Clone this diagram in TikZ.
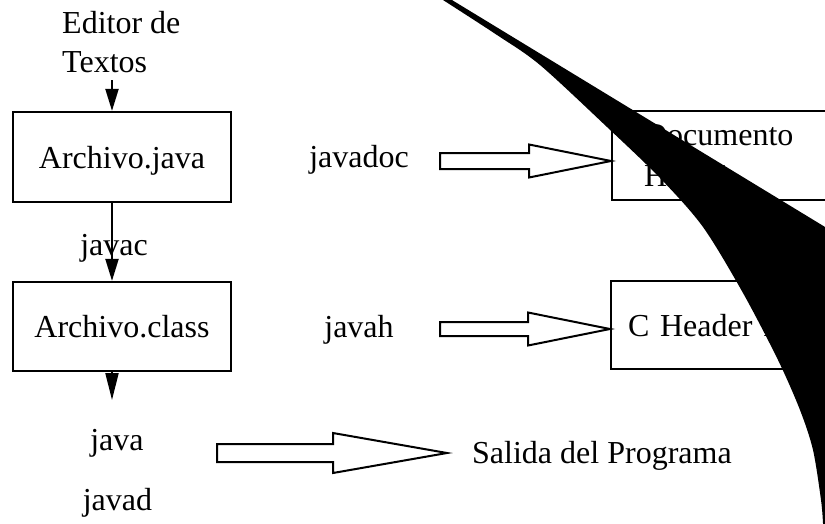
\documentclass[tikz,border=0pt]{standalone}
\usepackage{fontspec}
\setmainfont{Liberation Serif}
\usetikzlibrary{arrows.meta,calc}
\newcommand\hollowarr[5]{%
  \draw[hollowstyle] ($(#1)+(0,-#3)$) -- ($(#2)+(-#5,-#3)$) -- ($(#2)+(-#5,-#4)$) -- (#2)
    -- ($(#2)+(-#5,#4)$) -- ($(#2)+(-#5,#3)$) -- ($(#1)+(0,#3)$) -- cycle;}
\begin{document}
\begin{tikzpicture}[x=1pt,y=-1pt,
  txt/.style={font=\fontsize{32}{39}\selectfont, inner sep=0pt},
  filebox/.style={draw, line width=2.2pt, rectangle, font=\fontsize{32}{39}\selectfont},
  flow/.style={line width=2pt, -{Triangle[length=22pt,width=13pt]}},
  hollowstyle/.style={draw, line width=2pt, fill=white, line join=miter}]
\useasboundingbox (0,0) rectangle (825,523);
% text and boxes
\node[txt, align=left, anchor=north west] (editor) at (62,11) {Editor de\\Textos};
\node[filebox, minimum width=218pt, minimum height=90pt, text height=26pt, text depth=4pt, inner xsep=0pt] (java) at (122,157) {Archivo.java};
\node[filebox, minimum width=218pt, minimum height=89pt, inner xsep=0pt] (class) at (122,326.5) {Archivo.class};
\node[filebox, anchor=north west, minimum height=89pt, text width=220pt, inner xsep=32pt, align=left,
      font=\fontsize{32}{41}\selectfont] (doc) at (611,110) {Documento\\HTML};
\node[filebox, anchor=north west, minimum height=88pt, text width=220pt, inner xsep=17pt, align=left] (hdr) at (610,280) {C Header File};
\node[txt, anchor=base] (javac) at (114,255) {javac};
\node[txt, anchor=base] (javadoc) at (359,167) {javadoc};
\node[txt, anchor=base] (javah) at (359,337) {javah};
\node[txt, anchor=base] (javarun) at (117,450) {java};
\node[txt, anchor=base] (javad) at (117.5,510) {javad};
\node[txt, anchor=base west] (salida) at (472,463) {Salida del Programa};
% vertical flow
\coordinate (a1s) at (112,80);
\coordinate (a3e) at (112,400);
\draw[flow] (a1s) -- (a1s |- java.north);
\draw[flow] (java.south -| a1s) -- (class.north -| a1s);
\draw[line width=2pt, -{Triangle[length=27pt,width=13pt]}] (class.south -| a1s) -- (a3e);
% hollow arrows
\coordinate (y1) at (0,161);
\coordinate (y2) at (0,329);
\coordinate (h1s) at (440,161);
\coordinate (h1e) at (doc.west |- y1);
\coordinate (h2s) at (440,329);
\coordinate (h2e) at (hdr.west |- y2);
\coordinate (h3s) at (217,453);
\coordinate (h3e) at (447,453);
\hollowarr{h1s}{h1e}{8}{16.5}{82}
\hollowarr{h2s}{h2e}{7}{16.5}{82}
\hollowarr{h3s}{h3e}{9}{20}{114}
% page curl shadow
\fill[black] (447,-3) -- (830,230) -- (830,527) -- (823,527)
  -- plot[smooth, tension=0.5] coordinates {(823,523) (821,500) (813,450) (800,410) (778,360) (743,293) (703,227) (660,178) (607,127) (540,65) (497,35) (443,0)}
  -- (441,-3) -- cycle;
\end{tikzpicture}
\end{document}
